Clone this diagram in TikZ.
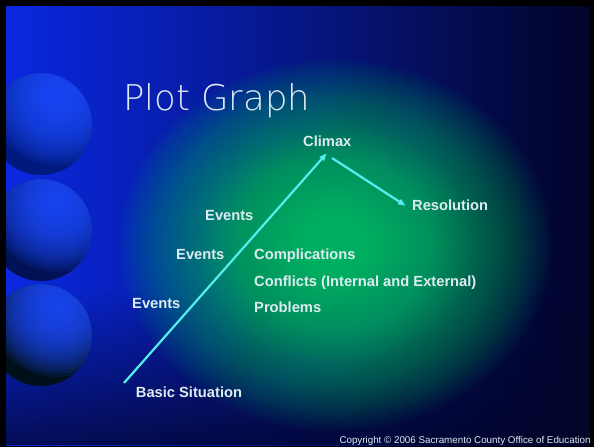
\documentclass[tikz,border=0pt]{standalone}
\usepackage{fontspec}
\setmainfont{Liberation Sans}
\newfontfamily\titlefont{DejaVu Sans ExtraLight}
\usetikzlibrary{positioning, arrows.meta, fadings}

\definecolor{slideblue}{RGB}{10,40,225}
\definecolor{slidemid}{RGB}{0,32,150}
\definecolor{slidenavy}{RGB}{2,4,40}
\definecolor{glowgreen}{RGB}{0,205,95}
\definecolor{ballhi}{RGB}{30,75,255}
\definecolor{ballbaseA}{RGB}{0,25,125}
\definecolor{ballbaseB}{RGB}{0,18,85}
\definecolor{ballbaseC}{RGB}{0,16,26}
\definecolor{labeltext}{RGB}{222,236,242}
\definecolor{arrowcyan}{RGB}{85,238,238}

\begin{document}
\begin{tikzpicture}
        [
            x=1pt, y=-1pt,
            stage/.style = {text=labeltext, font=\fontsize{14.7}{17}\selectfont\bfseries, inner sep=0pt, anchor=base west},
            heading/.style = {text=labeltext, font=\titlefont\fontsize{35.5}{40}\selectfont, inner sep=0pt, anchor=base west},
            smallprint/.style = {text=labeltext, font=\fontsize{9.8}{11}\selectfont, inner sep=0pt, anchor=base west},
            plotarrow/.style = {->, arrowcyan, line width=2.2pt},
            >={Latex[length=8pt,width=7pt]}
        ]%
        \useasboundingbox (0,0) rectangle (594,447);
        % slide background
        \fill[black] (0,0) rectangle (594,447);
        \shade[left color=slideblue, middle color=slidemid, right color=slidenavy] (6,6) rectangle (590,445);
        \fill[slidenavy, path fading=north, fill opacity=0.75] (6,290) rectangle (590,445);
        \begin{scope}
            \clip (6,6) rectangle (590,445);
            \foreach \k in {1,...,60}
                \fill[glowgreen, fill opacity=0.032] (335,245) ellipse ({\k*3.6pt} and {\k*3.1pt});
            \foreach \k in {1,...,25}
                \fill[glowgreen, fill opacity=0.03] (335,245) ellipse ({\k*5.4pt} and {\k*4.6pt});
        \end{scope}
        % spheres
        \begin{scope}
            \clip (6,6) rectangle (590,445);
            \foreach \y/\base in {124/ballbaseA, 230/ballbaseB, 335/ballbaseC} {
                \fill[\base] (41,\y) circle (51pt);
                \begin{scope}
                    \clip (41,\y) circle (51pt);
                    \foreach \k in {1,...,20}
                        \fill[ballhi, fill opacity=0.12] (58,\y-28) circle ({\k*3.5pt});
                \end{scope}
            }
        \end{scope}
        % labels
        \node[heading] (title) at (123,110.7) {Plot Graph};
        \node[stage] (climax) at (303,146.5) {Climax};
        \node[stage] (resolution) at (412,210.5) {Resolution};
        \node[stage] (eventsc) at (205,220.5) {Events};
        \node[stage] (eventsb) at (176,259) {Events};
        \node[stage] (eventsa) at (132,308.5) {Events};
        \node[stage] (complications) at (254,259) {Complications};
        \node[stage, below=27.5pt of complications.base west, anchor=base west] (conflicts) {Conflicts (Internal and External)};
        \node[stage, below=25.5pt of conflicts.base west, anchor=base west] (problems) {Problems};
        \node[stage] (basic) at (135.7,397) {Basic Situation};
        \node[smallprint] (copyright) at (339.3,443) {Copyright © 2006 Sacramento County Office of Education};
        % plot line
        \coordinate (risestart) at (124,383);
        \coordinate (risepeak) at (327,153);
        \coordinate (fallstart) at (332,158);
        \coordinate (fallend) at (406,206);
        \draw[plotarrow] (risestart) -- (risepeak);
        \draw[plotarrow] (fallstart) -- (fallend);
\end{tikzpicture}
\end{document}
